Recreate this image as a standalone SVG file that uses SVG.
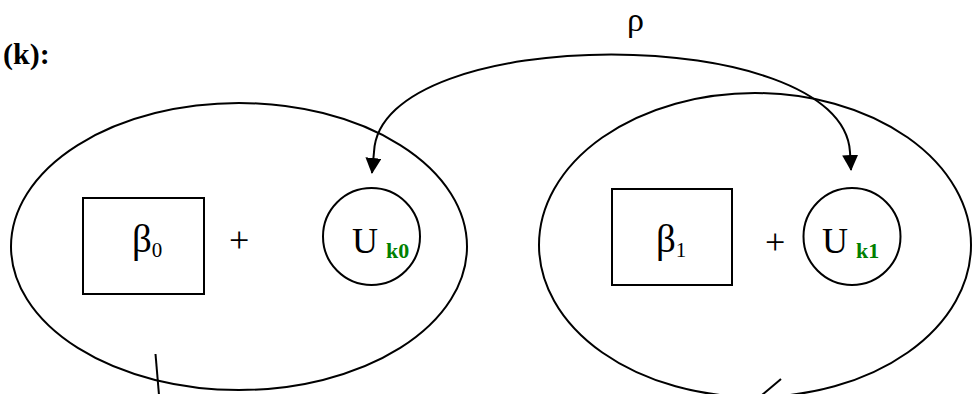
<svg xmlns="http://www.w3.org/2000/svg" width="977" height="394" viewBox="0 0 977 394">
<style>
.s{fill:none;stroke:#000;stroke-width:2}
.t{font-family:"Liberation Serif","Times New Roman",serif;font-size:36px;fill:#000}
.b{font-family:"Liberation Serif","Times New Roman",serif;font-size:39px;fill:#000}
.sub{font-family:"Liberation Serif","Times New Roman",serif;font-size:21px;fill:#000}
.g{font-family:"Liberation Serif","Times New Roman",serif;font-size:22px;font-weight:bold;fill:#008000}
</style>
<defs>
<marker id="ah" markerUnits="userSpaceOnUse" markerWidth="16" markerHeight="16" viewBox="0 0 16 16" refX="15" refY="8" orient="auto-start-reverse">
<path d="M0,0 L16,8 L0,16 Z" fill="#000"/>
</marker>
</defs>
<rect width="977" height="394" fill="#fff"/>
<text x="3" y="64" style="font-family:'Liberation Serif','Times New Roman',serif;font-size:30px;font-weight:bold">(k):</text>
<g id="group0">
<ellipse class="s" cx="239" cy="246.5" rx="228" ry="143.5"/>
<line class="s" x1="155.5" y1="354" x2="159" y2="395"/>
</g>
<g id="group1">
<ellipse class="s" cx="755" cy="245" rx="216" ry="152"/>
<line class="s" x1="781" y1="379" x2="762" y2="395"/>
</g>
<g id="beta0">
<rect class="s" x="83" y="198" width="121" height="96"/>
<text class="b" x="132" y="252">β<tspan class="sub" y="257">0</tspan></text>
</g>
<text class="t" x="229" y="252">+</text>
<g id="u0">
<circle class="s" cx="371.5" cy="236.5" r="48.5"/>
<text class="t" x="352" y="253">U<tspan class="g" x="386" y="258">k0</tspan></text>
</g>
<g id="beta1">
<rect class="s" x="612" y="189" width="120" height="96"/>
<text class="b" x="656" y="252">β<tspan class="sub" y="257">1</tspan></text>
</g>
<text class="t" x="765" y="254">+</text>
<g id="u1">
<circle class="s" cx="852" cy="236.5" r="48.5"/>
<text class="t" x="822" y="253">U<tspan class="g" x="856" y="258">k1</tspan></text>
</g>
<g id="connectors">
<path class="s" d="M372,173 L374,152 C380,22 842,22 850,152 L851,170" marker-start="url(#ah)" marker-end="url(#ah)"/>
<text x="627" y="31" style="font-family:'Liberation Serif','Times New Roman',serif;font-size:34px">ρ</text>
</g>
</svg>
